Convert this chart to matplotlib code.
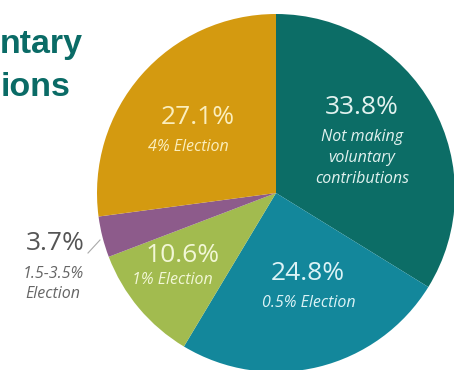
import matplotlib.pyplot as plt

# slices, clockwise from 12 o'clock
shares = [33.8, 24.8, 10.6, 3.7, 27.1]
pct_labels = ['33.8%', '24.8%', '10.6%', '3.7%', '27.1%']
sub_labels = ['Not making\nvoluntary\ncontributions', '0.5% Election',
              '1% Election', '1.5-3.5%\nElection', '4% Election']
colors = ['#0c6d66', '#13879b', '#a2bb4f', '#8d5b8b', '#d49a10']

W, H = 454, 370


def py(y):
    # pixel row -> data y
    return H - y


fig = plt.figure(figsize=(W / 100, H / 100), dpi=100)
ax = fig.add_axes([0, 0, 1, 1])

ax.pie(shares, colors=colors, startangle=90, counterclock=False,
       center=(276, py(193)), radius=179,
       wedgeprops=dict(linewidth=0))
ax.set_xlim(0, W)
ax.set_ylim(0, H)
ax.set_aspect('equal')
ax.axis('off')

# title (cropped in the original)
title_kw = dict(family='Liberation Sans', weight='bold', fontsize=24.5,
                color='#0a6b66', ha='left', va='baseline')
ax.text(0, py(53), 'ntary', **title_kw)
ax.text(1, py(96), 'ions', **title_kw)

big = dict(family='Open Sans', fontsize=19, ha='center', va='center')
small = dict(family='Open Sans', fontsize=11.5, style='italic', ha='center',
             va='center', linespacing=1.4)

# 33.8%
ax.text(362, py(108), pct_labels[0], color='#e2f2ef', **big)
ax.text(362, py(158), sub_labels[0], color='#e2f2ef', **small)
# 24.8%
ax.text(308, py(273), pct_labels[1], color='#dcf3f6', **big)
ax.text(309, py(303), sub_labels[1], color='#dcf3f6', **small)
# 10.6%
ax.text(183, py(255), pct_labels[2], color='#f2f7d6', **big)
ax.text(172, py(280), sub_labels[2], color='#f2f7d6', **small)
# 27.1%
ax.text(198, py(118), pct_labels[4], color='#fbeebd', **big)
ax.text(188, py(147), sub_labels[4], color='#fbeebd', **small)
# 3.7% outside with leader
ax.text(55, py(243), pct_labels[3], color='#555555', **big)
ax.text(53, py(284), sub_labels[3], color='#666666', **small)
ax.plot([88, 100], [py(253), py(240)], color='#aaaaaa', lw=0.8)

fig.savefig('out.png', dpi=100)
